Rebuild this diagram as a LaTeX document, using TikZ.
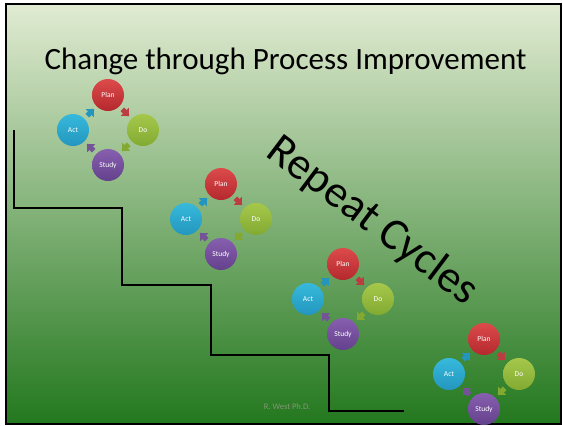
\documentclass[tikz,border=0pt]{standalone}
\usepackage{fontspec}
\setmainfont{Carlito}
\usepackage{xcolor}
\usepackage{tikz}
\usetikzlibrary{positioning,arrows.meta}

\definecolor{bgtop}{RGB}{225,235,210}
\definecolor{bgmid}{RGB}{150,190,110}
\definecolor{bgbot}{RGB}{35,120,30}
\definecolor{planhi}{RGB}{220,75,75}
\definecolor{planlo}{RGB}{180,40,45}
\definecolor{dohi}{RGB}{165,200,75}
\definecolor{dolo}{RGB}{130,170,50}
\definecolor{studyhi}{RGB}{135,95,175}
\definecolor{studylo}{RGB}{100,65,140}
\definecolor{acthi}{RGB}{55,185,220}
\definecolor{actlo}{RGB}{35,150,190}
\definecolor{signgray}{RGB}{130,150,118}

\begin{document}
\begin{tikzpicture}[x=1pt, y=-1pt,
    stage/.style={circle, minimum size=32pt, inner sep=0pt, text=white,
        font=\fontsize{7.5}{9}\selectfont},
    plan/.style={stage, top color=planhi, bottom color=planlo},
    do/.style={stage, top color=dohi, bottom color=dolo},
    study/.style={stage, top color=studyhi, bottom color=studylo},
    act/.style={stage, top color=acthi, bottom color=actlo},
    flow/.style={line width=5pt, -{Triangle[width=11pt,length=6pt]},
        shorten <=4pt, shorten >=3.5pt}]
    \useasboundingbox (0,0) rectangle (563,426);

    % Slide
    \shade[top color=bgtop, middle color=bgmid, bottom color=bgbot] (6,4) rectangle (561,424);
    \draw[line width=2.5pt] (6,4) rectangle (561,424);

    \node[font=\fontsize{31}{36}\selectfont, anchor=base] (title) at (285.5,69)
        {Change through Process Improvement};
    \node[font=\fontsize{45}{50}\selectfont, rotate=-37, anchor=base west] (repeat) at (262,153)
        {Repeat Cycles};
    \node[text=signgray, font=\fontsize{8.5}{10}\selectfont] (sign) at (287,407) {R. West Ph.D.};

    % Stairs
    \draw[line width=2.5pt] (14,130) |- (122,208) |- (211,285) |- (329,355) |- (404,411);

    % Cycles
    \foreach \n/\x/\y in {1/108/130, 2/221/219, 3/343/299, 4/484/374} {
        \node[plan] (plan\n) at (\x,\y-35) {Plan};
        \node[do] (do\n) at (\x+35,\y) {Do};
        \node[study] (study\n) at (\x,\y+35) {Study};
        \node[act] (act\n) at (\x-35,\y) {Act};
        \draw[flow, planlo!90!white] (plan\n) -- (do\n);
        \draw[flow, dolo] (do\n) -- (study\n);
        \draw[flow, studylo!90!white] (study\n) -- (act\n);
        \draw[flow, actlo] (act\n) -- (plan\n);
    }
\end{tikzpicture}
\end{document}
